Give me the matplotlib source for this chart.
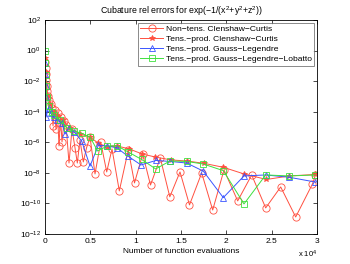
import matplotlib
matplotlib.use("Agg")
import matplotlib.pyplot as plt

plt.rcParams['font.family'] = ['Liberation Sans', 'DejaVu Sans']
plt.rcParams['mathtext.fontset'] = 'custom'
plt.rcParams['mathtext.rm'] = 'Liberation Sans'
plt.rcParams['mathtext.it'] = 'Liberation Sans'

# Non-tensor Clenshaw-Curtis
nt_cc_x = [33, 55, 88, 132, 176, 243, 331, 441, 607, 772, 882, 1048, 1213, 1379, 1544, 1709,
           1875, 2096, 2316, 2647, 2978, 3309, 3562, 3860, 4224, 4577, 4963, 5515, 6143, 6805,
           7389, 8195, 9187, 9871, 10775, 11636, 12717, 13764, 14889, 15937, 17282, 18496,
           19742, 21253, 22797, 24341, 25996, 27650, 29503, 29834]
nt_cc_y = [1.8e-1, 7.3e-2, 2.9e-2, 1.2e-2, 4.8e-3, 2.3e-3, 1.1e-3, 5.9e-4, 3.2e-4, 1.8e-4,
           1.2e-5, 1.3e-4, 7.4e-6, 8.3e-5, 5.8e-7, 4.5e-5, 1.05e-6, 2.5e-5, 1.4e-5, 4.4e-8,
           7.4e-6, 4.3e-7, 4.4e-8, 1.4e-6, 5.2e-8, 4.3e-7, 2.2e-6, 8.5e-9, 1.05e-6, 1.15e-8,
           3.7e-7, 6.6e-10, 3.1e-7, 2.2e-9, 1.7e-7, 1.6e-9, 9.4e-8, 2.7e-10, 1.15e-8, 8.0e-11,
           9.9e-9, 3.7e-11, 1.55e-8, 1.46e-10, 7.3e-9, 5.1e-11, 1.2e-9, 1.3e-11, 1.9e-9, 7.3e-9]

# Tensor-product Clenshaw-Curtis
tp_cc_x = [22, 55, 110, 276, 551, 993, 1434, 1985, 2757, 3860, 4963, 5845, 6838, 7941, 9264,
           10753, 12132, 13897, 15628, 17536, 19687, 21948, 24429, 26966, 29834]
tp_cc_y = [3.3e-1, 4.0e-2, 6.5e-3, 1.1e-3, 3.2e-4, 9.6e-5, 5.3e-5, 2.9e-5, 8.6e-6, 3.5e-6,
           2.2e-6, 9.0e-7, 4.9e-7, 5.8e-7, 3.7e-7, 1.7e-7, 1.1e-7, 7.0e-8, 6.0e-8, 4.2e-8,
           2.3e-8, 8.5e-9, 3.7e-9, 6.3e-9, 7.9e-9]

# Tensor-product Gauss-Legendre
tp_gl_x = [22, 44, 66, 88, 110, 386, 607, 937, 1323, 1875, 2206, 2647, 3231, 4048, 4963, 5878,
           6871, 7941, 9099, 10588, 12242, 13786, 15628, 17459, 19665, 21948, 24341, 26911, 29834]
tp_gl_y = [1.5e-1, 2.9e-2, 4.8e-3, 9.2e-4, 4.5e-5, 1.8e-4, 8.3e-5, 4.5e-5, 2.9e-5, 1.8e-5,
           3.5e-6, 8.6e-6, 4.7e-6, 1.2e-6, 2.8e-8, 6.2e-7, 5.8e-7, 4.3e-7, 1.3e-7, 3.3e-8,
           6.5e-8, 5.6e-8, 4.4e-8, 1.3e-8, 2.4e-10, 6.3e-9, 7.3e-9, 5.2e-9, 2.5e-9]

# Tensor-product Gauss-Legendre-Lobatto
tp_gll_x = [11, 33, 55, 110, 221, 441, 717, 993, 1654, 2426, 3198, 4081, 4963, 5812, 6871, 7974,
            9187, 10665, 12209, 13786, 15628, 17459, 19665, 21948, 24341, 26944, 29834]
tp_gll_y = [1.0e0, 1.5e-1, 2.5e-2, 4.8e-3, 9.2e-4, 2.4e-4, 9.6e-5, 6.1e-5, 2.9e-5, 8.6e-6,
            5.5e-6, 3.8e-6, 2.2e-6, 2.7e-7, 5.8e-7, 5.8e-7, 2.3e-7, 7.5e-8, 1.8e-8, 6.0e-8,
            5.6e-8, 3.8e-8, 1.4e-8, 9.3e-11, 7.3e-9, 6.3e-9, 7.3e-9]

labels = ['Non\u2212tens. Clenshaw\u2212Curtis', 'Tens.\u2212prod. Clenshaw\u2212Curtis',
          'Tens.\u2212prod. Gauss\u2212Legendre', 'Tens.\u2212prod. Gauss\u2212Legendre\u2212Lobatto']
xtick_vals = [0, 5000, 10000, 15000, 20000, 25000, 30000]
xtick_labels = ['0', '0.5', '1', '1.5', '2', '2.5', '3']
ytick_vals = [1e2, 1e0, 1e-2, 1e-4, 1e-6, 1e-8, 1e-10, 1e-12]

red = '#ff5040'
blue = '#3a55ff'
green = '#3ee03e'

fig = plt.figure(figsize=(3.5, 2.64), dpi=100)
ax = fig.add_axes([0.1286, 0.1136, 0.7771, 0.8106])

lw = 0.7
ax.semilogy(nt_cc_x, nt_cc_y, '-o', color=red, lw=lw, ms=5.2, mfc='none', mew=0.6, label=labels[0])
ax.semilogy(tp_cc_x, tp_cc_y, '-*', color=red, lw=lw, ms=4, mew=0.6, label=labels[1])
ax.semilogy(tp_gl_x, tp_gl_y, '-^', color=blue, lw=lw, ms=4.8, mfc='none', mew=0.6, label=labels[2])
ax.semilogy(tp_gll_x, tp_gll_y, '-s', color=green, lw=lw, ms=4.2, mfc='none', mew=0.6, label=labels[3])

ax.set_xlim(0, 30000)
ax.set_ylim(1e-12, 1e2)
ax.set_xticks(xtick_vals)
ax.set_xticklabels(xtick_labels)
ax.set_yticks(ytick_vals)
ax.minorticks_off()
ax.tick_params(direction='in', length=3, width=0.5, labelsize=6, top=True, right=True, pad=3)
for s in ax.spines.values():
    s.set_linewidth(0.6)

ax.set_title('Cubature rel errors for exp(\u22121/(x$^2$+y$^2$+z$^2$))', fontsize=6.3, pad=4)
ax.set_xlabel('Number of function evaluations', fontsize=6, labelpad=2)
fig.text(0.851, 0.025, 'x 10$^4$', fontsize=5.5)

leg = ax.legend(loc='upper right', fontsize=6.1, frameon=True, fancybox=False,
                edgecolor='#555555', borderpad=0.3, labelspacing=0.25, handlelength=2.6,
                handletextpad=0.4, borderaxespad=0.3)
leg.get_frame().set_linewidth(0.6)

fig.savefig('out.png', dpi=100)
